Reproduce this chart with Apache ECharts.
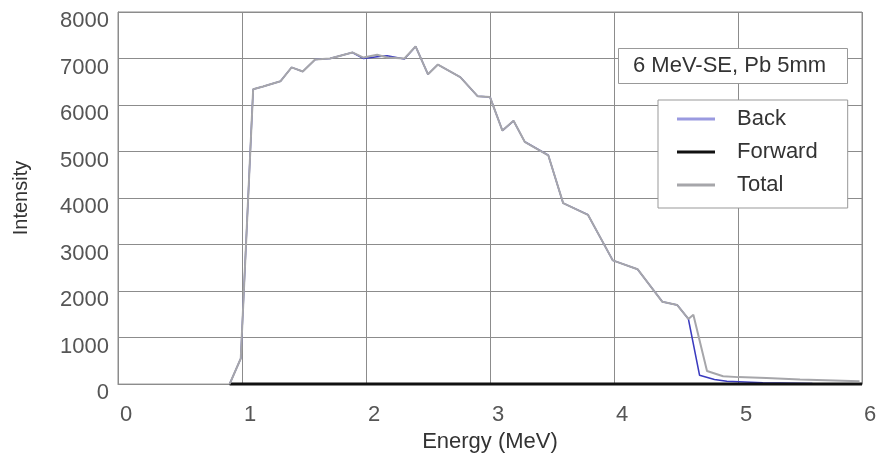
<!DOCTYPE html>
<html>
<head>
<meta charset="utf-8">
<script src="https://cdn.jsdelivr.net/npm/echarts@6/dist/echarts.min.js"></script>
<style>
  html, body { margin: 0; padding: 0; background: #fff; }
  #chart { width: 880px; height: 458px; }
</style>
</head>
<body>
<div id="chart"></div>
<script>
// Values: [energy MeV, intensity].
const TOTAL = [
  [0.90, 0], [0.99, 550], [1.09, 6340], [1.17, 6400], [1.31, 6510], [1.40, 6810],
  [1.49, 6720], [1.59, 6980], [1.71, 7000], [1.89, 7130], [1.98, 7020], [2.09, 7080],
  [2.17, 7020], [2.31, 7000], [2.40, 7260], [2.50, 6660], [2.58, 6870], [2.76, 6600],
  [2.90, 6190], [3.00, 6170], [3.10, 5450], [3.19, 5660], [3.28, 5210], [3.47, 4920],
  [3.59, 3890], [3.79, 3640], [3.99, 2660], [4.19, 2470], [4.39, 1770], [4.51, 1700],
  [4.60, 1400], [4.64, 1490], [4.75, 280], [4.88, 170], [5.00, 150], [5.23, 130],
  [5.50, 100], [5.98, 60],
];

const BACK = [
  [0.90, 0], [0.99, 550], [1.09, 6340], [1.17, 6400], [1.31, 6510], [1.40, 6810],
  [1.49, 6720], [1.59, 6980], [1.71, 7000], [1.89, 7130], [1.98, 7000], [2.09, 7040],
  [2.17, 7060], [2.31, 6990], [2.40, 7260], [2.50, 6660], [2.58, 6870], [2.76, 6600],
  [2.90, 6190], [3.00, 6170], [3.10, 5450], [3.19, 5660], [3.28, 5210], [3.47, 4920],
  [3.59, 3890], [3.79, 3640], [3.99, 2660], [4.19, 2470], [4.39, 1770], [4.51, 1700],
  [4.60, 1400], [4.69, 190], [4.81, 100], [4.91, 60], [5.20, 30], [5.60, 15], [6.00, 10],
];

const FORWARD = [
  [0.90, 0], [2.00, 0], [3.00, 0], [4.00, 0], [5.00, 0], [6.00, 0],
];

const SERIES_NAMES = ["Back", "Forward", "Total"];
const PLOT_TITLE = "6 MeV-SE, Pb 5mm";

const FONT = "Liberation Sans";
const GRID_COLOR = "#8c8c8c";

const chart = echarts.init(document.getElementById("chart"), null, { renderer: "canvas" });

chart.setOption({
  animation: false,
  textStyle: { fontFamily: FONT },
  grid: {
    left: 118, right: 18, top: 12, bottom: 70,
    show: true, borderColor: GRID_COLOR, borderWidth: 1,
  },
  title: {
    text: PLOT_TITLE,
    left: 618, top: 48,
    padding: [7, 22, 7, 15],
    borderColor: "#999", borderWidth: 1,
    backgroundColor: "#fff",
    textStyle: { fontFamily: FONT, fontSize: 22, fontWeight: "normal", color: "#333" },
  },
  // plain swatches, as in the scan: no point markers on the legend lines
  legend: {
    data: SERIES_NAMES,
    orient: "vertical",
    left: 658, top: 100,
    padding: [8, 30, 12, 19],
    itemGap: 11,
    icon: "rect",
    itemWidth: 38, itemHeight: 3,
    borderColor: "#999", borderWidth: 1,
    backgroundColor: "#fff",
    textStyle: { fontFamily: FONT, fontSize: 22, color: "#333", padding: [0, 0, 0, 17] },
  },
  xAxis: {
    type: "value",
    min: 0, max: 6, interval: 1,
    name: "Energy (MeV)",
    nameLocation: "middle",
    nameGap: 42,
    nameTextStyle: { fontFamily: FONT, fontSize: 22, color: "#333" },
    axisLine: { show: true, lineStyle: { color: GRID_COLOR } },
    axisTick: { show: false },
    axisLabel: { fontSize: 22, color: "#555", margin: 20, padding: [0, 0, 0, 16] },
    splitLine: { show: true, lineStyle: { color: GRID_COLOR, width: 1 } },
  },
  yAxis: {
    type: "value",
    min: 0, max: 8000, interval: 1000,
    name: "Intensity",
    nameLocation: "middle",
    nameGap: 87,
    nameTextStyle: { fontFamily: FONT, fontSize: 20, color: "#333" },
    axisLine: { show: true, lineStyle: { color: GRID_COLOR } },
    axisTick: { show: false },
    axisLabel: {
      fontSize: 22, color: "#555", margin: 9,
      verticalAlign: "top", lineHeight: 18,
      formatter: (v) => String(v),
    },
    splitLine: { show: true, lineStyle: { color: GRID_COLOR, width: 1 } },
  },
  series: [
    {
      name: "Back", type: "line", symbol: "none", clip: false,
      data: BACK,
      lineStyle: { color: "#3b3bbf", width: 1.5 },
      itemStyle: { color: "#9a9ae0" },
      z: 2,
    },
    {
      name: "Forward", type: "line", symbol: "none", clip: false,
      data: FORWARD,
      lineStyle: { color: "#111", width: 3 },
      itemStyle: { color: "#111" },
      z: 3,
    },
    {
      name: "Total", type: "line", symbol: "none", clip: false,
      data: TOTAL,
      lineStyle: { color: "#a6a6aa", width: 2 },
      itemStyle: { color: "#a6a6aa" },
      z: 4,
    },
  ],
});
</script>
</body>
</html>
